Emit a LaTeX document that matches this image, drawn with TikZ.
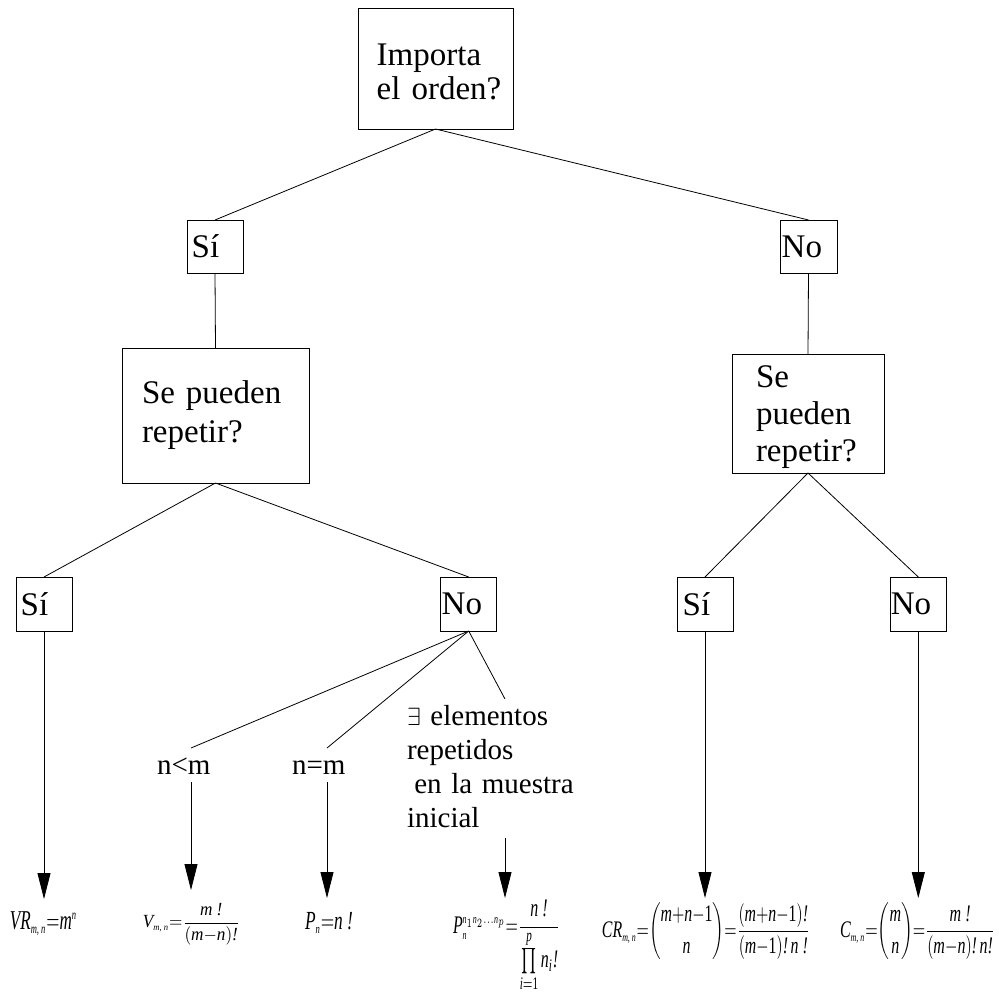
\documentclass[tikz,border=0pt]{standalone}
\usepackage{amsmath}
\usepackage{graphicx}
\usepackage{fontspec}
\setmainfont{Liberation Serif}
\usetikzlibrary{arrows.meta}
\newcommand{\tinyidx}[1]{{\scriptscriptstyle #1}}
\newcommand{\fv}[1]{\textit{#1}}
\newcommand{\fr}[1]{\textrm{#1}}
\begin{document}
\begin{tikzpicture}[x=1pt,y=-1pt,
  every node/.style={inner sep=0pt, outer sep=0pt},
  box/.style={draw, line width=0.8pt, align=left, font=\fontsize{33}{38}\selectfont},
  lbl/.style={align=left, font=\fontsize{29}{34}\selectfont},
  conn/.style={line width=0.8pt},
  arr/.style={line width=0.8pt, -{Triangle[length=26pt,width=13pt]}}
]
\useasboundingbox (0,0) rectangle (999,993);

% boxes
\node[box, minimum width=155pt, minimum height=121pt, text width=117.6pt, text height=28pt, font=\fontsize{33}{34}\selectfont] (top) at (435.5,68.5) {\mbox{Importa}\\\mbox{el orden?}};
\node[box, minimum width=56pt, minimum height=53pt, text width=46.6pt] (si1) at (215,246.5) {Sí};
\node[box, minimum width=57pt, minimum height=53pt, text width=53.6pt] (no1) at (808.5,246.5) {No};
\node[box, minimum width=187pt, minimum height=135pt, text width=147pt, font=\fontsize{33}{39}\selectfont] (sp1) at (215.5,415.5) {\mbox{Se pueden}\\\mbox{repetir?}};
\node[box, minimum width=152pt, minimum height=119pt, text width=104pt, text height=30pt, font=\fontsize{33}{37}\selectfont] (sp2) at (808,413.5) {Se\\pueden\\\mbox{repetir?}};
\node[box, minimum width=56pt, minimum height=54pt, text width=46.6pt] (si2) at (44,604) {Sí};
\node[box, minimum width=56pt, minimum height=54pt, text width=54pt] (no2) at (468.7,604) {No};
\node[box, minimum width=56pt, minimum height=54pt, text width=44.6pt] (si3) at (705,604) {Sí};
\node[box, minimum width=56.5pt, minimum height=54pt, text width=55pt] (no3) at (918.3,604) {No};

% labels
\node[lbl, text width=68pt, text height=26pt, text depth=8pt, anchor=base] (nlm) at (191,774) {n<m};
\node[lbl, text width=70pt, text height=26pt, text depth=8pt, anchor=base] (nem) at (327,774) {n=m};
\node[lbl, text width=196pt, text height=26pt, anchor=base] (ex) at (505,725) {\mbox{$\exists$ elementos}\\repetidos\\\mbox{\hspace*{0.25em}en la muestra}\\inicial};

% formulas
\node (f1) at (43.5,924) {\resizebox*{67pt}{24pt}{$\fv{VR}_{\tinyidx{\fv{m, n}}}{=}\fv{m}^{\tinyidx{\fv{n}}}$}};
\node (f2) at (191.5,924) {\resizebox*{97pt}{42pt}{$\displaystyle \fv{V}_{\tinyidx{\fv{m, n}}}{=}\frac{\fv{m !}}{(\fv{m}{-}\fv{n})\fv{!}}$}};
\node (f3) at (329,922.5) {\resizebox*{48pt}{21pt}{$\fv{P}_{\tinyidx{\fv{n}}}{=}\fv{n !}$}};
\node (f4) at (506.5,946) {\resizebox*{107pt}{92pt}{$\displaystyle \fv{P}_{\tinyidx{\fv{n}}}^{\tinyidx{\fv{n}_1\fv{n}_2\ldots\fv{n}_p}}{=}\frac{\fv{n !}}{\prod\limits_{\fv{i}=\fr{1}}^{\fv{p}}\fv{n}_{\fv{i}}\fv{!}}$}};
\node (f5) at (706,931.5) {\resizebox*{208pt}{57pt}{$\displaystyle \fv{CR}_{\tinyidx{\fv{m, n}}}{=}\binom{\fv{m}{+}\fv{n}{-}\fr{1}}{\fv{n}}{=}\frac{(\fv{m}{+}\fv{n}{-}\fr{1})\fv{!}}{(\fv{m}{-}\fr{1})\fv{!}\,\fv{n !}}$}};
\node (f6) at (917.5,931.5) {\resizebox*{155pt}{57pt}{$\displaystyle \fv{C}_{\tinyidx{\fv{m, n}}}{=}\binom{\fv{m}}{\fv{n}}{=}\frac{\fv{m !}}{(\fv{m}{-}\fv{n})\fv{!}\,\fv{n!}}$}};

% connectors
\draw[conn] (top.south) -- (si1.north);
\draw[conn] (top.south) -- (no1.north);
\draw[conn] (si1.south) -- (sp1.north);
\draw[conn] (no1.south) -- (sp2.north);
\draw[conn] (sp1.south) -- (si2.north);
\draw[conn] (sp1.south) -- (no2.north);
\draw[conn] (sp2.south) -- (si3.north);
\draw[conn] (sp2.south) -- (no3.north);
\draw[conn] (no2.south) -- (nlm.north);
\draw[conn] (no2.south) -- (nem.north);
\draw[conn] (no2.south) -- (ex.north);

% arrows
\draw[arr, shorten >=13pt] (si2.south) -- (si2.south |- f1.north);
\draw[arr, shorten >=13pt] (nlm.south) -- (nlm.south |- f2.north);
\draw[arr, shorten >=14pt] (nem.south) -- (nem.south |- f3.north);
\draw[arr, shorten <=11pt, shorten >=2pt] (ex.south) -- (ex.south |- f4.north);
\draw[arr, shorten >=5pt] (si3.south) -- (si3.south |- f5.north);
\draw[arr, shorten >=5pt] (no3.south) -- (no3.south |- f6.north);
\end{tikzpicture}
\end{document}
